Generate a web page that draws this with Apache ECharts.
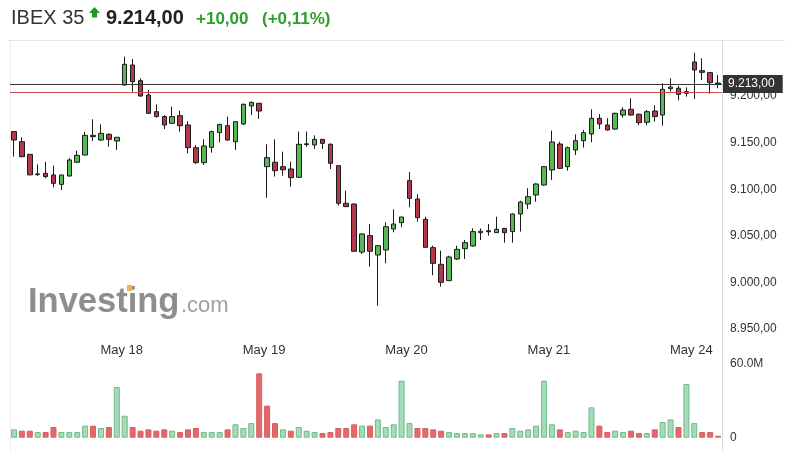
<!DOCTYPE html>
<html><head><meta charset="utf-8">
<script src="https://cdn.jsdelivr.net/npm/echarts@6/dist/echarts.min.js"></script>
<style>html,body{margin:0;padding:0;background:#fff}#c{width:785px;height:451px}</style>
</head><body><div id="c"></div>
<script>
// 30-minute candles, IBEX 35, May 17 (partial) to May 24
const openP = [9161.9,9151.1,9137.5,9115.8,9117.1,9115.4,9105.3,9114.3,9129.0,9136.8,9157.9,9152.9,9159.0,9151.8,
  9211.9,9233.4,9216.6,9201.2,9183.3,9178.0,9170.8,9179.0,9169.0,9144.7,9128.6,9145.0,9160.8,9168.3,9151.1,9170.1,9189.4,9192.3,
  9124.3,9129.0,9124.3,9121.8,9112.9,9148.0,9147.6,9153.6,9148.3,9125.4,9085.0,9084.2,9032.7,9050.3,9029.5,9034.9,9057.4,9064.2,
  9109.3,9089.6,9067.8,9037.4,9019.5,9002.0,9025.2,9036.3,9039.2,9053.5,9055.5,9053.5,9058.1,9054.6,9073.5,9084.2,9093.9,9104.6,
  9120.7,9148.6,9124.3,9142.2,9152.2,9159.4,9176.2,9169.0,9164.7,9179.7,9185.8,9180.5,9171.9,9184.0,9179.7,9208.0,9208.4,9204.8,
  9236.6,9227.3,9225.2,9214.0];
const closeP = [9152.9,9135.0,9115.5,9116.5,9113.6,9106.4,9115.4,9131.5,9136.5,9157.9,9156.5,9160.0,9153.6,9155.8,
  9234.1,9215.5,9200.1,9181.5,9178.0,9169.0,9178.0,9168.3,9144.7,9128.6,9146.5,9161.9,9169.7,9152.9,9172.6,9191.2,9193.3,9184.0,
  9134.0,9120.0,9121.0,9112.5,9148.3,9148.8,9153.6,9149.3,9127.9,9085.0,9081.4,9033.5,9052.1,9033.5,9039.5,9059.9,9062.8,9070.3,
  9090.3,9069.6,9037.7,9020.6,9000.2,9027.4,9035.6,9042.8,9054.6,9055.0,9054.5,9057.1,9053.5,9073.5,9086.4,9092.1,9105.7,9124.3,
  9150.8,9122.5,9144.7,9152.2,9160.8,9176.2,9170.1,9163.7,9181.5,9185.1,9179.7,9171.5,9183.3,9178.0,9207.3,9209.8,9201.9,9203.0,
  9228.0,9225.5,9214.4,9213.0];
const lowP = [9135.0,9134.3,9115.0,9114.3,9111.8,9102.1,9099.3,9113.6,9128.6,9136.5,9151.8,9151.8,9145.8,9142.2,
  9211.2,9204.8,9199.4,9180.8,9176.9,9164.7,9170.1,9161.9,9138.6,9127.2,9126.1,9139.3,9150.4,9152.2,9142.2,9169.0,9179.7,9175.5,
  9091.0,9113.6,9114.6,9102.8,9112.5,9145.8,9143.3,9143.3,9121.8,9082.5,9081.4,9032.7,9030.6,9017.0,8975.1,9020.6,9053.8,9059.2,
  9080.7,9065.3,9037.7,9007.7,8995.5,9001.6,9024.2,9025.2,9038.5,9045.6,9050.3,9053.5,9042.8,9042.8,9054.6,9078.9,9086.7,9103.9,
  9110.0,9121.8,9120.0,9136.8,9144.7,9150.4,9164.7,9163.0,9163.7,9176.9,9179.0,9168.7,9168.7,9172.6,9168.3,9204.8,9195.5,9199.4,
  9196.9,9217.3,9202.6,9208.4];
const highP = [9162.6,9155.8,9137.5,9126.8,9129.3,9125.4,9115.4,9133.3,9141.5,9161.5,9175.1,9169.7,9160.0,9155.8,
  9242.3,9239.8,9219.1,9206.6,9191.2,9179.7,9188.7,9184.4,9173.0,9147.6,9153.6,9163.0,9170.1,9178.0,9172.6,9192.0,9194.1,9192.8,
  9148.3,9153.6,9140.4,9129.7,9161.9,9161.9,9157.9,9154.0,9149.3,9125.4,9098.5,9084.6,9052.8,9062.8,9039.5,9064.6,9078.5,9070.3,
  9118.6,9094.6,9070.6,9039.5,9034.2,9028.8,9039.5,9045.6,9058.1,9058.1,9062.8,9070.6,9058.1,9074.2,9087.8,9101.1,9106.4,9125.0,
  9163.0,9151.1,9145.8,9159.0,9163.7,9185.8,9180.8,9176.2,9182.3,9188.0,9197.6,9181.5,9185.1,9190.1,9213.7,9219.1,9210.9,9209.4,
  9246.6,9240.6,9225.2,9222.7];
const volumeM = [6.8,5.7,5.7,4.6,4.6,8.7,4.6,4.6,4.6,9.8,9.8,7.9,8.7,41.3,
  17.9,8.7,5.7,6.8,5.7,6.8,5.7,4.6,6.8,7.9,4.6,4.6,4.6,6.8,10.9,7.9,11.9,52.4,
  26.1,11.9,6.8,5.7,8.7,5.7,4.6,3.8,4.6,7.9,7.9,10.9,9.8,9.8,14.9,8.7,10.9,46.4,
  11.9,7.9,7.9,6.8,5.7,4.6,3.8,3.8,3.8,2.7,2.7,3.8,3.8,7.9,5.7,6.8,9.8,46.4,
  10.9,6.8,4.6,5.7,4.6,24.7,9.8,4.6,5.7,4.6,5.7,3.8,3.8,6.8,12.8,14.9,8.7,43.7,
  11.9,4.6,4.6,1.6];
const dayLabels = ['May 18','May 19','May 20','May 21','May 24'];
const dayStartIdx = [14,32,50,68,86];
const priceTicks = [8950,9000,9050,9100,9150,9200];
const volumeTicks = [0,60];
const lastPrice = 9213;
const prevClose = 9204;
const closeBeforeFirst = 9150;

function fmt(v){
  const s = v.toFixed(2).split('.');
  return s[0].replace(/\B(?=(\d{3})+(?!\d))/g,'.') + ',' + s[1];
}
const cats = openP.map((_, i) => String(i));
const candles = openP.map((o, i) => [o, closeP[i], lowP[i], highP[i]]);
const volData = volumeM.map((v, i) => {
  const prev = i === 0 ? closeBeforeFirst : closeP[i - 1];
  const up = closeP[i] >= prev;
  return {value: v, itemStyle: up ? {color:'#a5dbb7', borderColor:'#6dbb8c', borderWidth:1}
                                  : {color:'#e06a6a', borderColor:'#d95f5f', borderWidth:1}};
});
const FONT = '"Liberation Sans", Arial, sans-serif';

const chart = echarts.init(document.getElementById('c'), null, {renderer:'canvas'});
chart.setOption({
  animation: false,
  backgroundColor: '#fff',
  textStyle: {fontFamily: FONT},
  grid: [
    {left: 10, right: 63, top: 40, height: 300},
    {left: 10, right: 63, top: 364, height: 73.7}
  ],
  xAxis: [
    {type:'category', gridIndex:0, data:cats, boundaryGap:true,
     axisLine:{show:false}, axisTick:{show:false}, splitLine:{show:false},
     axisLabel:{interval:(i) => dayStartIdx.indexOf(i) >= 0,
       formatter:(v) => { const k = dayStartIdx.indexOf(+v); return k >= 0 ? dayLabels[k] : ''; },
       margin:4, fontSize:13, color:'#333', fontFamily:FONT, padding:[0,6,0,0]}},
    {type:'category', gridIndex:1, data:cats, boundaryGap:true,
     axisLine:{show:false}, axisTick:{show:false}, axisLabel:{show:false}, splitLine:{show:false}}
  ],
  yAxis: [
    {type:'value', gridIndex:0, position:'right', min:8938.3, max:9260.2,
     axisLine:{show:false}, axisTick:{show:false}, splitLine:{show:false},
     axisLabel:{customValues:priceTicks, formatter:fmt, fontSize:12, color:'#333', margin:8, fontFamily:FONT}},
    {type:'value', gridIndex:1, position:'right', min:0, max:60,
     axisLine:{show:false}, axisTick:{show:false}, splitLine:{show:false},
     axisLabel:{customValues:volumeTicks, formatter:(v) => v === 0 ? '0' : v.toFixed(1) + 'M',
       fontSize:12, color:'#333', margin:8, fontFamily:FONT}}
  ],
  graphic: [
    {type:'line', shape:{x1:8, y1:40.5, x2:785, y2:40.5}, style:{stroke:'#e6e6e6', lineWidth:1}, silent:true},
    {type:'line', shape:{x1:10.5, y1:40, x2:10.5, y2:451}, style:{stroke:'#ececec', lineWidth:1}, silent:true},
    {type:'line', shape:{x1:722.5, y1:40, x2:722.5, y2:451}, style:{stroke:'#d9dde3', lineWidth:1}, silent:true},
    {type:'text', style:{x:11, y:18, text:'IBEX 35', font:'20px ' + FONT, fill:'#333', verticalAlign:'middle', textVerticalAlign:'middle'}},
    {type:'polygon', shape:{points:[[94.5,7],[100,13],[97,13],[97,17.5],[92,17.5],[92,13],[89,13]]}, style:{fill:'#1f9a1f'}},
    {type:'text', style:{x:106, y:18, text:'9.214,00', font:'bold 20px ' + FONT, fill:'#222', verticalAlign:'middle', textVerticalAlign:'middle'}},
    {type:'text', style:{x:196, y:19, text:'+10,00', font:'bold 17px ' + FONT, fill:'#2f9e2a', verticalAlign:'middle', textVerticalAlign:'middle'}},
    {type:'text', style:{x:262, y:19, text:'(+0,11%)', font:'bold 17px ' + FONT, fill:'#2f9e2a', verticalAlign:'middle', textVerticalAlign:'middle'}},
    {type:'text', z:-1, style:{x:28, y:302, text:'Investing', font:'bold 34.5px ' + FONT, fill:'#8e8e8e', verticalAlign:'middle', textVerticalAlign:'middle'}},
    {type:'text', z:-1, style:{x:181, y:306, text:'.com', font:'22px ' + FONT, fill:'#a0a0a0', verticalAlign:'middle', textVerticalAlign:'middle'}},
    {type:'rect', z:-1, shape:{x:127, y:285, width:5, height:6}, style:{fill:'#f3b14a'}}
  ],
  series: [
    {type:'candlestick', xAxisIndex:0, yAxisIndex:0, data:candles, barWidth:5,
     itemStyle:{color:'#56b956', color0:'#b3394a', borderColor:'#1b1b1b', borderColor0:'#1b1b1b', borderWidth:1},
     markLine:{symbol:['none','none'], silent:true, animation:false,
       data:[
         {yAxis: prevClose, lineStyle:{color:'#d24b4b', width:1, type:'solid'}, label:{show:false}},
         {yAxis: lastPrice, lineStyle:{color:'#333', width:1, type:'solid'},
          label:{show:true, position:'end', distance:1, formatter:() => fmt(lastPrice), color:'#fff',
                 backgroundColor:'#333', padding:[3,8,3,5], fontSize:12, fontFamily:FONT}}
       ]}},
    {type:'bar', xAxisIndex:1, yAxisIndex:1, data:volData, barWidth:6}
  ]
});
</script></body></html>
